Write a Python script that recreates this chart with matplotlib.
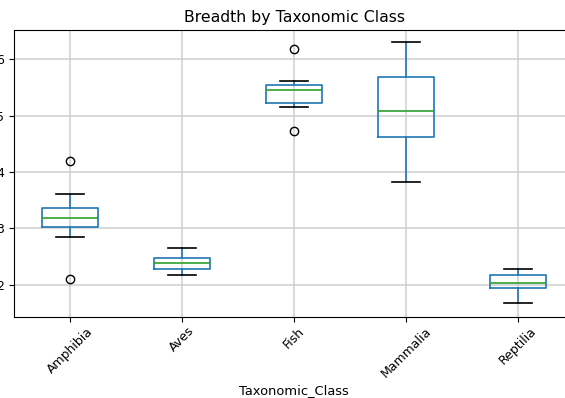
import matplotlib
matplotlib.use("Agg")
import matplotlib.pyplot as plt

# Breadth summary per taxonomic class
classes = ["Amphibia", "Aves", "Fish", "Mammalia", "Reptilia"]
whislo = [2.85, 2.17, 5.15, 3.83, 1.67]
q1 = [3.03, 2.28, 5.23, 4.62, 1.95]
med = [3.18, 2.38, 5.46, 5.09, 2.04]
q3 = [3.37, 2.48, 5.54, 5.68, 2.18]
whishi = [3.62, 2.66, 5.62, 6.30, 2.29]
fliers = [[4.20, 2.11], [], [6.18, 4.73], [], []]

stats = []
for i, name in enumerate(classes):
    stats.append({
        "label": name,
        "whislo": whislo[i],
        "q1": q1[i],
        "med": med[i],
        "q3": q3[i],
        "whishi": whishi[i],
        "fliers": fliers[i],
    })

fig = plt.figure(figsize=(5.65, 3.98), dpi=100)
ax = fig.add_axes([14 / 565, 81 / 398, 560 / 565, 287 / 398])

lw = 1.2
ax.bxp(
    stats,
    boxprops=dict(color="#1f77b4", linewidth=lw),
    whiskerprops=dict(color="#1f77b4", linewidth=lw),
    capprops=dict(color="black", linewidth=lw),
    medianprops=dict(color="#2ca02c", linewidth=lw),
    flierprops=dict(marker="o", markerfacecolor="none", markeredgecolor="black"),
)

ax.set_ylim(1.43, 6.52)
ax.set_yticks([2, 3, 4, 5, 6])
ax.tick_params(labelsize=9)
ax.tick_params(axis="x", pad=2)
ax.grid(True, color="#d0d0d0", linewidth=1.1)
ax.set_axisbelow(True)
ax.set_title("Breadth by Taxonomic Class", fontsize=11.3)
ax.set_xlabel("Taxonomic_Class", fontsize=9.4, labelpad=3)
plt.setp(ax.get_xticklabels(), rotation=45)

fig.savefig("out.png", dpi=100)
